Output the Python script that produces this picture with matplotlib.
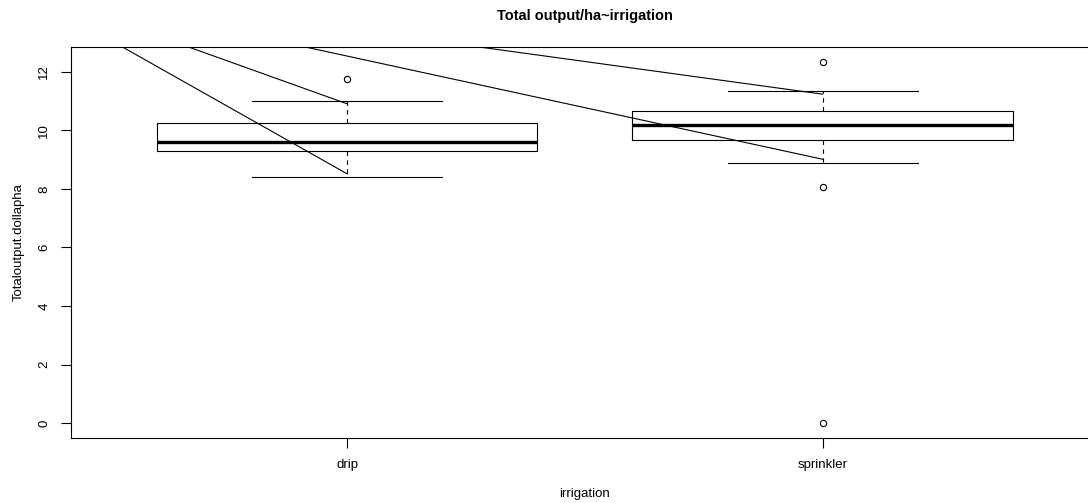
import matplotlib
matplotlib.use("Agg")
import matplotlib.pyplot as plt

# Boxplot summary values
groups = ["drip", "sprinkler"]
whisker_low = [8.40, 8.89]
box_q1 = [9.30, 9.66]
box_median = [9.61, 10.17]
box_q3 = [10.26, 10.66]
whisker_high = [11.00, 11.33]
outliers = [[11.74], [12.33, 8.08, 0.0]]

# Extra lines drawn over the boxplot (start far left, end at group centre)
line_x_start = [0.42, 0.42, 0.42, 0.42]
line_y_start = [13.82, 14.27, 14.57, 14.75]
line_x_end = [1.0, 1.0, 2.0, 2.0]
line_y_end = [8.51, 10.90, 9.01, 11.23]

plt.rcParams["font.family"] = ["Liberation Sans", "DejaVu Sans"]


def make_plot():
    fig = plt.figure(figsize=(10.88, 5.03), dpi=100)
    # plot region runs past the right edge of the image, as in the original
    ax = fig.add_axes([0.0653, 0.1286, 0.9442, 0.7786])

    stats = []
    for i, name in enumerate(groups):
        stats.append({
            "label": name,
            "whislo": whisker_low[i],
            "q1": box_q1[i],
            "med": box_median[i],
            "q3": box_q3[i],
            "whishi": whisker_high[i],
            "fliers": outliers[i],
        })

    ax.bxp(
        stats,
        positions=[1, 2],
        widths=0.8,
        capwidths=0.4,
        boxprops=dict(color="black", linewidth=0.8),
        whiskerprops=dict(color="black", linewidth=0.8, linestyle=(0, (4, 4))),
        capprops=dict(color="black", linewidth=0.8),
        medianprops=dict(color="black", linewidth=2.4),
        flierprops=dict(marker="o", markerfacecolor="none", markeredgecolor="black",
                        markersize=4.5, markeredgewidth=0.8),
    )

    for xs, ys, xe, ye in zip(line_x_start, line_y_start, line_x_end, line_y_end):
        ax.plot([xs, xe], [ys, ye], color="black", linewidth=0.8)

    ax.set_xlim(0.419, 2.58)
    ax.set_ylim(-0.51, 12.85)

    ax.set_yticks([0, 2, 4, 6, 8, 10, 12])
    ax.set_yticklabels(["0", "2", "4", "6", "8", "10", "12"], rotation=90, va="center")
    ax.set_xticks([1, 2])
    ax.set_xticklabels(groups)
    ax.tick_params(axis="both", direction="out", length=7, width=0.8, labelsize=9.5, pad=8)

    for side in ["left", "bottom", "top", "right"]:
        ax.spines[side].set_linewidth(0.8)

    ax.set_xlabel("irrigation", fontsize=9.5, labelpad=12)
    ax.set_ylabel("Totaloutput.dollapha", fontsize=9.5, labelpad=10)
    ax.set_title("Total output/ha~irrigation", fontsize=10.5, fontweight="bold", pad=19)

    fig.savefig("out.png", dpi=100)
    plt.close(fig)


if __name__ == "__main__":
    make_plot()
